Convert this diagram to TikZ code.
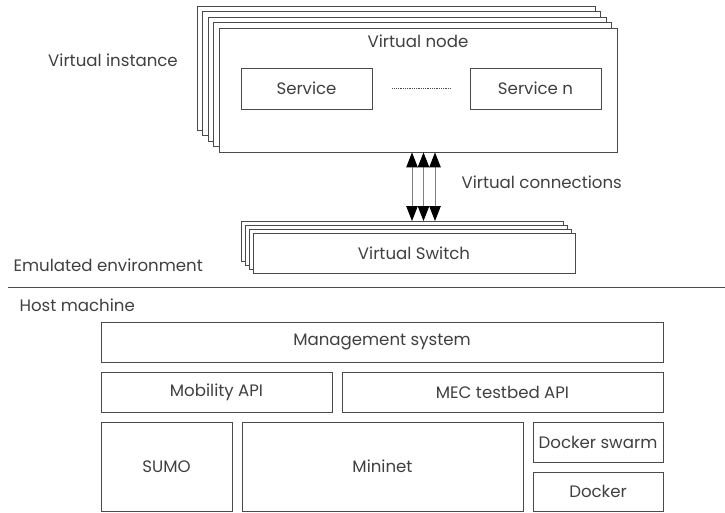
\documentclass[tikz,border=0pt]{standalone}
\usepackage{fontspec}
\setmainfont{Poppins}
\usetikzlibrary{arrows.meta, positioning}
\definecolor{traitgris}{HTML}{4A4A4A}
\definecolor{textegris}{HTML}{404040}

\begin{document}
\begin{tikzpicture}[x=1pt, y=-1pt, >=Stealth,
  every node/.style={font=\fontsize{16.6}{19}\selectfont, text=textegris},
  box/.style={draw=traitgris, line width=0.9pt, fill=white, inner sep=0pt},
  conn/.style={draw=gray, line width=0.9pt,
    {Triangle[length=15pt, width=11.5pt, color=black]}-{Triangle[length=15pt, width=11.5pt, color=black]}}]

  \useasboundingbox (0,0) rectangle (725,513);

  % Virtual instance (stack)
  \foreach \i in {4,3,2,1} {
    \draw[box] ({219-5.5*\i},{28-5.5*\i}) rectangle ({617-5.5*\i},{152-5.5*\i});
  }
  \node[box, minimum width=398pt, minimum height=124pt] (vnode) at (418,90) {};
  \node (vnodetxt) at (418,41) {Virtual node};
  \node[box, minimum width=131pt, minimum height=41pt] (svc) at (306.5,88.5) {Service};
  \node[box, minimum width=131pt, minimum height=41pt] (svcn) at (535.5,88.5) {Service n};
  \draw[densely dotted, traitgris, line width=0.8pt] ([xshift=20pt]svc.east) -- ([xshift=-19pt]svcn.west);
  \node (vinst) at (113,60) {Virtual instance};

  % Virtual switch (stack)
  \foreach \i in {3,2,1} {
    \draw[box] ({253-3.7*\i},{233-4*\i}) rectangle ({575-3.7*\i},{273-4*\i});
  }
  \node[box, minimum width=322pt, minimum height=40pt] (vswitch) at (414,253) {Virtual Switch};
  \coordinate (swtop) at (414,221);

  % Virtual connections
  \foreach \dx in {-6,5.5,17} {
    \draw[conn] ([xshift=\dx pt]vnode.south) -- ([xshift=\dx pt]vnode.south |- swtop);
  }
  \node[anchor=west] (vconn) at (458,182) {Virtual connections};

  % Separation
  \node[anchor=west] (emul) at (10,265) {Emulated environment};
  \draw[traitgris, line width=0.9pt] (8,287) -- (725,287);
  \node[anchor=west] (host) at (16,305) {Host machine};

  % Host machine
  \node[box, minimum width=562pt, minimum height=40pt] (mgmt) at (382,342) {Management system};
  \node[box, minimum width=231pt, minimum height=40pt] (mob) at (216.5,392) {Mobility API};
  \node[box, minimum width=321pt, minimum height=40pt] (mec) at (502.5,392) {MEC testbed API};
  \node[box, minimum width=131pt, minimum height=89pt] (sumo) at (166.5,466.5) {SUMO};
  \node[box, minimum width=281pt, minimum height=89pt] (mininet) at (382.5,466.5) {Mininet};
  \node[box, minimum width=130pt, minimum height=40pt] (swarm) at (598,442) {Docker swarm};
  \node[box, minimum width=130pt, minimum height=39pt] (docker) at (598,491.5) {Docker};

\end{tikzpicture}
\end{document}
